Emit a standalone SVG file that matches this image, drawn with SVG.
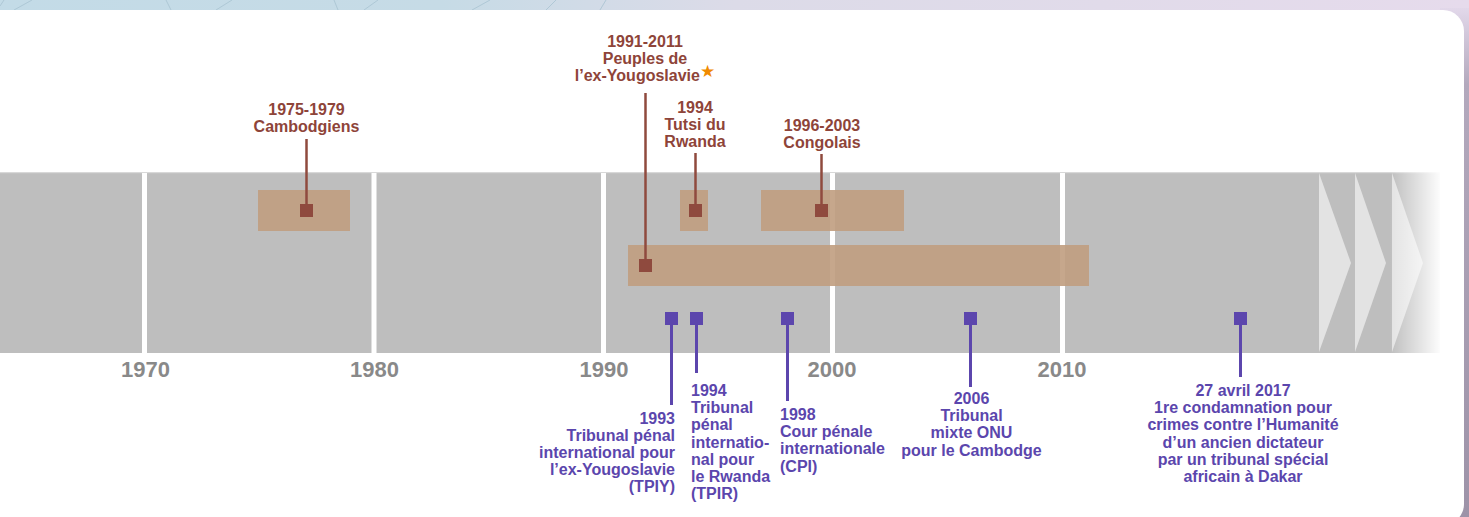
<svg xmlns="http://www.w3.org/2000/svg" width="1469" height="517" viewBox="0 0 1469 517">
<defs>
<linearGradient id="bg" x1="0" y1="0" x2="1" y2="0">
<stop offset="0" stop-color="#c3dbe7"/>
<stop offset="0.3" stop-color="#c6dbe6"/>
<stop offset="0.5" stop-color="#dcdbe8"/>
<stop offset="1" stop-color="#e6dbec"/>
</linearGradient>
<linearGradient id="shade" x1="0" y1="0" x2="0" y2="1">
<stop offset="0" stop-color="#e2d8ea"/>
<stop offset="0.15" stop-color="#b3a9bd"/>
<stop offset="1" stop-color="#9d93a8"/>
</linearGradient>
<linearGradient id="fade" x1="0" y1="0" x2="1" y2="0">
<stop offset="0" stop-color="#ffffff" stop-opacity="0"/>
<stop offset="1" stop-color="#ffffff" stop-opacity="1"/>
</linearGradient>
<style>
.yr{font-family:"Liberation Sans",Arial,sans-serif;font-weight:bold;font-size:22px;fill:#898989;text-anchor:middle}
.br{font-family:"Liberation Sans",Arial,sans-serif;font-weight:bold;font-size:16px;fill:#8e4439;text-anchor:middle}
.pu{font-family:"Liberation Sans",Arial,sans-serif;font-weight:bold;font-size:16px;fill:#5b46ad}
.sep{fill:#ffffff}
.box{fill:#c09d7f;opacity:0.9}
.bm{fill:#8f4a3e}
.pm{fill:#5c46ad}
.bl{stroke:#8f4a3e;stroke-width:2.5;fill:none}
.pl{stroke:#5c46ad;stroke-width:3;fill:none}
.chev{fill:#e3e3e3}
</style>
</defs>
<rect x="0" y="0" width="1469" height="517" fill="url(#bg)"/>
<g stroke="#a9c4d2" stroke-width="1" fill="none" opacity="0.8">
<line x1="0" y1="6" x2="4" y2="0"/>
<line x1="14" y1="10" x2="32" y2="0"/>
<line x1="166" y1="0" x2="171" y2="10"/>
<line x1="216" y1="10" x2="232" y2="0"/>
<line x1="334" y1="0" x2="338" y2="10"/>
<line x1="364" y1="10" x2="378" y2="0"/>
<line x1="472" y1="10" x2="490" y2="0"/>
<line x1="546" y1="10" x2="556" y2="0"/>
<line x1="600" y1="10" x2="606" y2="0"/>
</g>
<rect x="1440" y="8" width="29" height="509" fill="url(#shade)"/>
<rect x="-30" y="10" width="1494" height="515" rx="21" ry="21" fill="#ffffff"/>

<g id="timeline">
<rect x="0" y="172" width="1440" height="181" fill="#bebebe"/>
<rect x="0" y="172" width="1440" height="1.2" fill="#d8d8d8"/>
<rect class="sep" x="142" y="173" width="5" height="180"/>
<rect class="sep" x="371.5" y="173" width="5" height="180"/>
<rect class="sep" x="601" y="173" width="5" height="180"/>
<rect class="sep" x="830" y="173" width="5" height="180"/>
<rect class="sep" x="1060" y="173" width="5" height="180"/>
<polygon class="chev" points="1319,173 1351,263 1319,352"/>
<polygon class="chev" points="1355,173 1386,263 1355,352"/>
<polygon class="chev" points="1392,173 1423,263 1392,352"/>
<rect x="1390" y="171" width="52" height="183" fill="url(#fade)"/>
<text class="yr" x="145.5" y="377">1970</text>
<text class="yr" x="374.5" y="377">1980</text>
<text class="yr" x="604" y="377">1990</text>
<text class="yr" x="832" y="377">2000</text>
<text class="yr" x="1062" y="377">2010</text>
</g>

<g id="periods">
<rect class="box" x="258" y="190" width="92" height="41"/>
<rect class="box" x="680" y="190" width="28" height="41"/>
<rect class="box" x="761" y="190" width="143" height="41"/>
<rect class="box" x="628" y="245" width="461" height="41"/>
</g>

<g id="connectors">
<line class="bl" x1="306.5" y1="139" x2="306.5" y2="210"/>
<line class="bl" x1="645.5" y1="93" x2="645.5" y2="265"/>
<line class="bl" x1="695.5" y1="153" x2="695.5" y2="210"/>
<line class="bl" x1="821.5" y1="154" x2="821.5" y2="210"/>
<line class="pl" x1="671.5" y1="318" x2="671.5" y2="405"/>
<line class="pl" x1="696.5" y1="318" x2="696.5" y2="373"/>
<line class="pl" x1="787.5" y1="318" x2="787.5" y2="401"/>
<line class="pl" x1="970.5" y1="318" x2="970.5" y2="387"/>
<line class="pl" x1="1240.5" y1="318" x2="1240.5" y2="377"/>
</g>

<g id="cambodgiens">
<rect class="bm" x="300" y="204" width="13" height="13"/>
<text class="br" x="306.5" y="115"><tspan x="306.5">1975-1979</tspan><tspan x="306.5" dy="16.5">Cambodgiens</tspan></text>
</g>
<g id="yougoslavie">
<rect class="bm" x="639" y="259" width="13" height="13"/>
<text class="br" x="645" y="47"><tspan x="645">1991-2011</tspan><tspan x="645" dy="17">Peuples de</tspan><tspan x="645" dy="17">l’ex-Yougoslavie<tspan style="font-family:'DejaVu Sans',sans-serif;font-size:17px;fill:#f08a00" dy="-4">★</tspan></tspan></text>
</g>
<g id="tutsi">
<rect class="bm" x="689" y="204" width="13" height="13"/>
<text class="br" x="695" y="113"><tspan x="695">1994</tspan><tspan x="695" dy="17">Tutsi du</tspan><tspan x="695" dy="17">Rwanda</tspan></text>
</g>
<g id="congolais">
<rect class="bm" x="815" y="204" width="13" height="13"/>
<text class="br" x="822" y="131"><tspan x="822">1996-2003</tspan><tspan x="822" dy="16.5">Congolais</tspan></text>
</g>

<g id="tpiy">
<rect class="pm" x="665" y="312" width="13" height="13"/>
<text class="pu" text-anchor="end" x="675" y="423.5"><tspan x="675">1993</tspan><tspan x="675" dy="17.2">Tribunal pénal</tspan><tspan x="675" dy="17.2">international pour</tspan><tspan x="675" dy="17.2">l’ex-Yougoslavie</tspan><tspan x="675" dy="17.2">(TPIY)</tspan></text>
</g>
<g id="tpir">
<rect class="pm" x="690" y="312" width="13" height="13"/>
<text class="pu" x="691" y="396"><tspan x="691">1994</tspan><tspan x="691" dy="17.2">Tribunal</tspan><tspan x="691" dy="17.2">pénal</tspan><tspan x="691" dy="17.2">internatio-</tspan><tspan x="691" dy="17.2">nal pour</tspan><tspan x="691" dy="17.2">le Rwanda</tspan><tspan x="691" dy="17.2">(TPIR)</tspan></text>
</g>
<g id="cpi">
<rect class="pm" x="781" y="312" width="13" height="13"/>
<text class="pu" x="780" y="420"><tspan x="780">1998</tspan><tspan x="780" dy="17.2">Cour pénale</tspan><tspan x="780" dy="17.2">internationale</tspan><tspan x="780" dy="17.2">(CPI)</tspan></text>
</g>
<g id="cambodge">
<rect class="pm" x="964" y="312" width="13" height="13"/>
<text class="pu" text-anchor="middle" x="971.5" y="404"><tspan x="971.5">2006</tspan><tspan x="971.5" dy="17.2">Tribunal</tspan><tspan x="971.5" dy="17.2">mixte ONU</tspan><tspan x="971.5" dy="17.2">pour le Cambodge</tspan></text>
</g>
<g id="dakar">
<rect class="pm" x="1234" y="312" width="13" height="13"/>
<text class="pu" text-anchor="middle" x="1243" y="396"><tspan x="1243">27 avril 2017</tspan><tspan x="1243" dy="17.2">1re condamnation pour</tspan><tspan x="1243" dy="17.2">crimes contre l’Humanité</tspan><tspan x="1243" dy="17.2">d’un ancien dictateur</tspan><tspan x="1243" dy="17.2">par un tribunal spécial</tspan><tspan x="1243" dy="17.2">africain à Dakar</tspan></text>
</g>
</svg>
